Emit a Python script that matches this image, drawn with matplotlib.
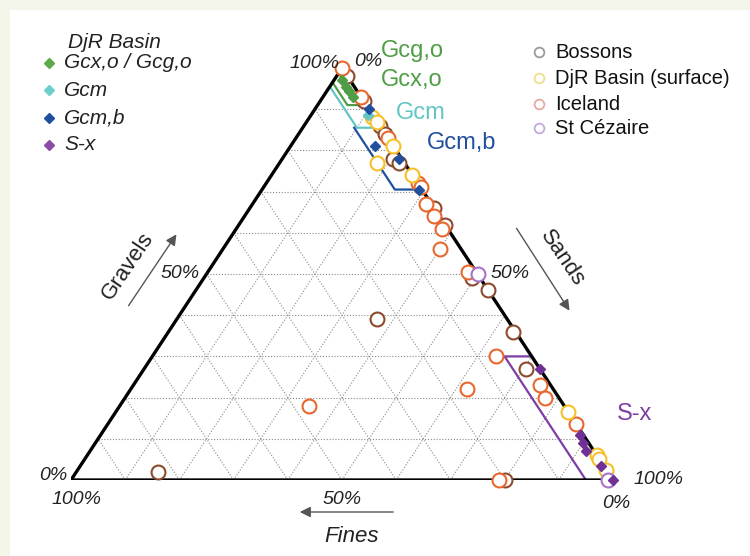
import matplotlib
matplotlib.use("Agg")
import matplotlib.pyplot as plt
import matplotlib.patches as patches
import numpy as np

plt.rcParams['font.family'] = ['Liberation Sans', 'DejaVu Sans']

# ternary data: gravel % and sand % (fines = 100 - gravel - sand)
bossons_g = [98, 92, 86, 84, 78, 77, 66, 62, 49, 46, 36, 27, 39, 2, 0]
bossons_s = [2, 8, 14, 16, 20.5, 22, 34, 38, 49.5, 54, 63.5, 70.5, 37, 15, 80]

iceland_g = [100, 93, 83, 72, 71, 67, 64, 61, 56, 50.5, 30, 23, 20, 22, 18, 13.5, 0]
iceland_s = [0, 7, 17, 28, 29, 32, 35, 38, 40, 48, 63.5, 75, 77.5, 62, 35, 86.5, 79]

djr_g = [88, 87, 81, 77, 74, 16.5, 6, 5, 2.5]
djr_s = [11.5, 13, 19, 18, 26, 83.5, 94, 95, 97.5]

stcez_g = [50, 0]
stcez_s = [50, 99]

gcx_g = [97, 95.5, 94.5, 93]
gcx_s = [1.5, 3, 4, 5.5]
gcm_g = [88.5]
gcm_s = [10.5]
gcmb_g = [90, 81, 78, 70.5]
gcmb_s = [10, 15.5, 21.5, 29]
sx_g = [27, 11, 9, 7, 3.5, 0]
sx_s = [73, 88.5, 90, 91.5, 96, 100]

# facies envelopes (gravel, sand)
green_env_g = [96.5, 91, 91]
green_env_s = [0, 5.5, 9]
teal_env_g = [95.5, 85.5, 85.5]
teal_env_s = [0, 10, 14.5]
blue_env_g = [85.5, 70.5, 70.5]
blue_env_s = [9.5, 24.5, 29.5]
sx_env_g = [0, 30, 30]
sx_env_s = [95, 65, 70]

GREEN = '#4f9e45'
TEAL = '#62c6c4'
BLUE = '#1f4f9e'
PURPLE = '#6f3196'


def tern(g, s):
    g = np.asarray(g, float)
    s = np.asarray(s, float)
    return s + g / 2.0, g


W, H = 750, 556
fig = plt.figure(figsize=(7.5, 5.56), dpi=100)
fig.patch.set_facecolor('#f3f6e8')
fig.add_artist(patches.Rectangle((10 / W, 0), 740 / W, 546 / H, transform=fig.transFigure,
                                 facecolor='white', edgecolor='none', zorder=0))

# triangle axes: x 0..100 -> px 71..613, y 0..100 -> px 480..68
ax = fig.add_axes([71 / W, (H - 480) / H, 542 / W, 412 / H])
ax.set_xlim(0, 100)
ax.set_ylim(0, 100)
ax.axis('off')

# dotted grid
for k in range(10, 100, 10):
    for gg, ss in [([k, k], [0, 100 - k]),          # constant gravel
                   ([0, 100 - k], [k, k]),          # constant sand
                   ([0, 100 - k], [100 - k, 0])]:   # constant fines
        x, y = tern(gg, ss)
        ax.plot(x, y, color='#8a8a8a', lw=0.8, ls=(0, (1, 1.6)), zorder=1)

# outline
x, y = tern([0, 100, 0, 0], [0, 0, 100, 0])
ax.plot(x, y, color='black', lw=2.4, zorder=3, solid_joinstyle='miter')

# envelopes
for eg, es, c in [(green_env_g, green_env_s, GREEN), (teal_env_g, teal_env_s, TEAL),
                  (blue_env_g, blue_env_s, BLUE), (sx_env_g, sx_env_s, '#7d3fa3')]:
    x, y = tern(eg, es)
    ax.plot(x, y, color=c, lw=1.6, zorder=2)

# site circles
for gg, ss, c in [(bossons_g, bossons_s, '#8c4a2f'), (iceland_g, iceland_s, '#e8672e'),
                  (djr_g, djr_s, '#f5c02a'), (stcez_g, stcez_s, '#a772c8')]:
    x, y = tern(gg, ss)
    ax.plot(x, y, 'o', mfc='white', mec=c, mew=1.5, ms=10, ls='none', zorder=4, clip_on=False)

# facies diamonds
for gg, ss, c in [(gcx_g, gcx_s, GREEN), (gcm_g, gcm_s, TEAL),
                  (gcmb_g, gcmb_s, BLUE), (sx_g, sx_s, PURPLE)]:
    x, y = tern(gg, ss)
    ax.plot(x, y, 'D', color=c, ms=5.5, mec=c, ls='none', zorder=5, clip_on=False)

# overlay axes in pixel coordinates for labels
ov = fig.add_axes([0, 0, 1, 1])
ov.set_xlim(0, W)
ov.set_ylim(H, 0)
ov.axis('off')
ov.patch.set_alpha(0)

tick_kw = dict(fontsize=14, style='italic', color='#222222')
ov.text(315, 63, '100%', ha='center', va='center', **tick_kw)
ov.text(368, 62, '0%', ha='center', va='center', **tick_kw)
ov.text(200, 273, '50%', ha='right', va='center', **tick_kw)
ov.text(491, 273, '50%', ha='left', va='center', **tick_kw)
ov.text(342, 500, '50%', ha='center', va='center', **tick_kw)
ov.text(67, 475, '0%', ha='right', va='center', **tick_kw)
ov.text(77, 500, '100%', ha='center', va='center', **tick_kw)
ov.text(633, 479, '100%', ha='left', va='center', **tick_kw)
ov.text(616, 503, '0%', ha='center', va='center', **tick_kw)

# axis names and arrows
arr = dict(arrowstyle='-|>', color='#555555', lw=1.0, mutation_scale=16)
ov.annotate('', xy=(178, 232), xytext=(127, 308), arrowprops=arr)
ov.text(128, 266, 'Gravels', rotation=56, ha='center', va='center', fontsize=16, color='#222222')
ov.annotate('', xy=(571, 313), xytext=(515, 226), arrowprops=arr)
ov.text(562, 258, 'Sands', rotation=-56, ha='center', va='center', fontsize=16, color='#222222')
ov.annotate('', xy=(297, 512), xytext=(396, 512), arrowprops=arr)
ov.text(352, 537, 'Fines', ha='center', va='center', fontsize=16, style='italic', color='#222222')

# facies labels
ov.text(412, 51, 'Gcg,o', ha='center', va='center', fontsize=17, color=GREEN)
ov.text(412, 80, 'Gcx,o', ha='center', va='center', fontsize=17, color=GREEN)
ov.text(421, 113, 'Gcm', ha='center', va='center', fontsize=17, color=TEAL)
ov.text(462, 143, 'Gcm,b', ha='center', va='center', fontsize=17, color=BLUE)
ov.text(635, 414, 'S-x', ha='center', va='center', fontsize=17, color='#7d3fa3')

# left legend (facies)
ov.text(68, 43, 'DjR Basin', ha='left', va='center', fontsize=15, style='italic', color='#222222')
for yy, lab, c in [(63, 'Gcx,o / Gcg,o', '#5aaa4c'), (90, 'Gcm', '#6ccfcb'),
                   (118, 'Gcm,b', BLUE), (145, 'S-x', '#8a4ca6')]:
    ov.plot([49], [yy], 'D', color=c, ms=5.5, ls='none')
    ov.text(64, yy, lab, ha='left', va='center', fontsize=15, style='italic', color='#222222')

# right legend (sites)
for yy, lab, c in [(52, 'Bossons', '#9a9a9a'), (78, 'DjR Basin (surface)', '#f1dc8c'),
                   (104, 'Iceland', '#e6aa9e'), (128, 'St Cézaire', '#c3a9e0')]:
    ov.plot([539], [yy], 'o', mfc='white', mec=c, mew=1.3, ms=7, ls='none')
    ov.text(555, yy, lab, ha='left', va='center', fontsize=14.5, color='#111111')

fig.savefig('out.png', dpi=100, facecolor=fig.get_facecolor())
